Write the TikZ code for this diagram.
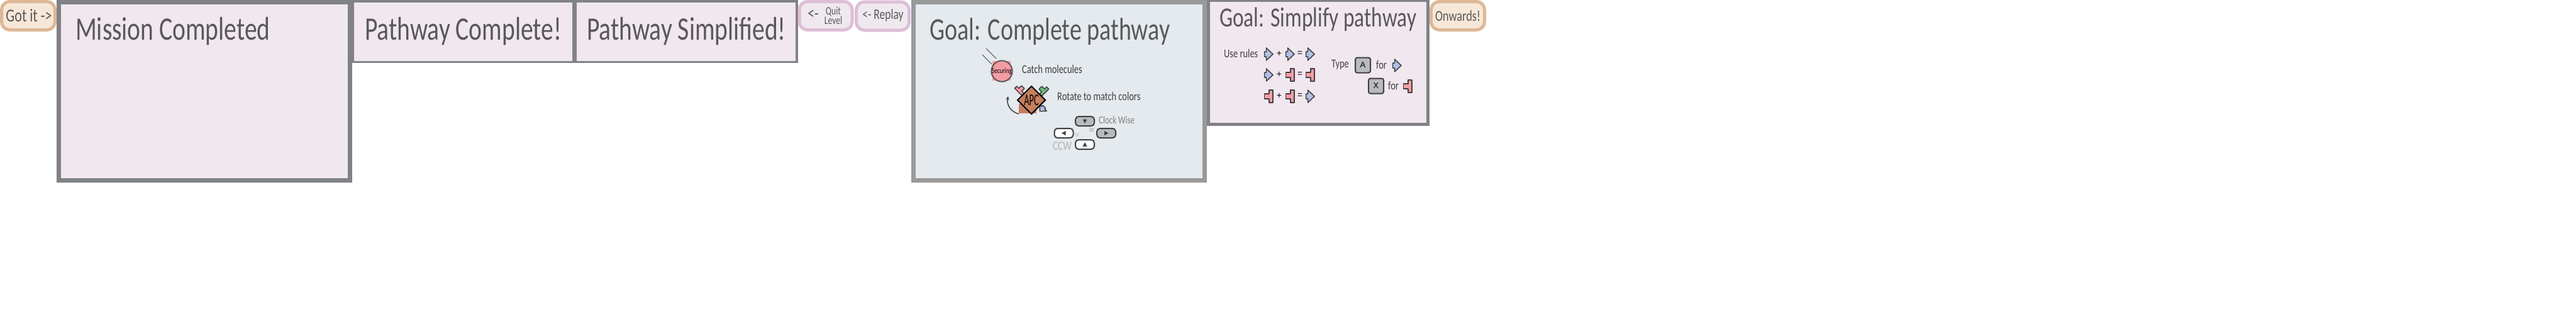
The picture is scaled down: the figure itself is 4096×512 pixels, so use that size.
\documentclass[tikz,border=0pt]{standalone}
\usepackage{fontspec}
\usetikzlibrary{shapes.geometric}
\newfontfamily\manofont[FakeStretch=0.76]{Carlito}
\newfontfamily\manostretta[FakeStretch=0.55]{Carlito}
\newfontfamily\tastofont{Liberation Sans}
\newcommand{\mano}[1]{\manofont\fontsize{#1}{#1}\selectfont}
\newcommand{\manoS}[1]{\manostretta\fontsize{#1}{#1}\selectfont}
\newcommand{\tasto}[1]{\tastofont\fontsize{#1}{#1}\selectfont}

\definecolor{bordoviola}{HTML}{818286}
\definecolor{bordogrigio}{HTML}{999999}
\definecolor{fondoviola}{HTML}{F1E7EF}
\definecolor{fondoblu}{HTML}{E5EAEE}
\definecolor{bordocaldo}{HTML}{DDB897}
\definecolor{fondocaldo}{HTML}{F7E7D7}
\definecolor{bordorosa}{HTML}{DDBFD7}
\definecolor{fondorosa}{HTML}{EFE9EF}
\definecolor{inchiostro}{HTML}{58585A}
\definecolor{scuro}{HTML}{3F3F41}
\definecolor{pezzoblu}{HTML}{AFC0E4}
\definecolor{pezzorosa}{HTML}{F59CA3}
\definecolor{pezzoverde}{HTML}{6FC17F}
\definecolor{rame}{HTML}{C57F5E}
\definecolor{tastogrigio}{HTML}{B9BABC}

\tikzset{
  pannello/.style={draw=bordoviola, fill=fondoviola, inner sep=0pt},
  bottone/.style={rounded corners=13pt, line width=5pt, minimum width=85pt, minimum height=45pt, inner sep=0pt},
  caldo/.style={bottone, draw=bordocaldo, fill=fondocaldo},
  rosa/.style={bottone, draw=bordorosa, fill=fondorosa},
  scritta/.style={text=inchiostro, inner sep=0pt},
  titolo/.style={scritta, anchor=base west, font=\mano{52}},
  regola/.style={text=scuro, inner sep=0pt, font=\mano{19}},
  segno/.style={text=black, inner sep=0pt, font=\tasto{14}},
  freccia/.style={draw=scuro, line width=2pt, fill=#1, rounded corners=5pt, minimum width=30pt, minimum height=15pt, inner sep=0pt},
  lettera/.style={draw=scuro, line width=2pt, fill=tastogrigio, rounded corners=3pt, minimum size=24pt, inner sep=0pt, font=\tasto{13}},
  pezzob/.pic={
    \draw[draw=scuro, fill=pezzoblu, line width=1.5pt, line join=round]
      (-3.5,-10) -- (-3.5,-4) -- (-6.5,-4) -- (-6.5,4) -- (-3.5,4) -- (-3.5,10) -- (7,0) -- cycle;
  },
  pezzot/.pic={
    \draw[draw=scuro, fill=pezzorosa, line width=1.5pt, line join=round]
      (1,-10) -- (7,-10) -- (7,10) -- (1,10) -- (1,4) -- (-6.5,4) -- (-6.5,-4) -- (1,-4) -- cycle;
  },
  pezzov/.pic={
    \draw[draw=scuro, fill=pezzoverde, line width=1.5pt, line join=round]
      (1,-10) -- (7,-10) -- (7,10) -- (1,10) -- (1,4) -- (-6.5,4) -- (-6.5,-4) -- (1,-4) -- cycle;
  },
  punta/.pic={
    \fill[scuro] (3.5,0) -- (-3,-3.5) -- (-3,3.5) -- cycle;
  }
}

\begin{document}
\begin{tikzpicture}[>=stealth, x=1pt, y=-1pt]
    \useasboundingbox (0,0) rectangle (4096,512);

    % --- Pannelli di fine livello ---
    \node[pannello, line width=3.5pt, minimum width=350.5pt, minimum height=96.5pt] (completa) at (736.5,50) {};
    \node[pannello, line width=3.5pt, minimum width=351.5pt, minimum height=96.5pt] (semplifica) at (1091,50) {};
    \node[pannello, line width=7pt, minimum width=463pt, minimum height=283pt] (missione) at (325,145) {};
    \node[titolo] (titmissione) at (120,63) {Mission Completed};
    \node[titolo] (titcompleta) at (580,63) {Pathway Complete!};
    \node[titolo] (titsemplifica) at (933,63) {Pathway Simplified!};

    % --- Bottoni ---
    \node[caldo] (gotit) at (45,25) {};
    \node[scritta, font=\mano{29}] (tgotit) at (46,25) {Got it ->};
    \node[rosa, minimum width=84pt] (quit) at (1313,25) {};
    \node[scritta, font=\mano{28}] (tquit) at (1293,23) {<-};
    \node[scritta, font=\mano{18}, align=center] (tlevel) at (1325,25) {Quit\\[-3pt]Level};
    \node[rosa, minimum width=84pt] (replay) at (1403.5,25.5) {};
    \node[scritta, font=\mano{23}] (treplay) at (1404,24) {<- Replay};
    \node[caldo] (onwards) at (2318,25) {};
    \node[scritta, font=\mano{24}] (tonwards) at (onwards) {Onwards!};

    % --- Obiettivo: completare ---
    \node[pannello, draw=bordogrigio, fill=fondoblu, line width=7pt, minimum width=463pt, minimum height=283pt] (obcompleta) at (1684,145) {};
    \node[titolo, font=\mano{50}] (titobcompleta) at (1478,63) {Goal: Complete pathway};

    % Molecola che cade
    \coordinate (scia1a) at (1568,77);
    \coordinate (scia1b) at (1584,93);
    \coordinate (scia2a) at (1562,87);
    \coordinate (scia2b) at (1577,102);
    \draw[scuro, line width=1pt] (scia1a) -- (scia1b);
    \draw[scuro, line width=1pt] (scia2a) -- (scia2b);
    \fill[pezzorosa] (1578,97) rectangle (1607,128);
    \node[circle, draw=inchiostro, fill=pezzorosa, line width=2pt, minimum size=28pt, inner sep=0pt, font=\mano{12}, text=black] (securing) at (1593,113) {Securing};
    \node[regola, anchor=west] (catch) at (1625,110) {Catch molecules};

    % Enzima con i suoi pezzi
    \fill[rame] (1620,165) rectangle (1648,180);
    \pic[rotate=225, scale=.8] at (1623,142) {pezzot};
    \pic[rotate=-45, scale=.8] at (1658,143) {pezzov};
    \pic[rotate=225, scale=.75] at (1657,173) {pezzob};
    \node[diamond, aspect=1, draw=black, fill=rame, line width=2pt, minimum size=45pt, inner sep=0pt, font=\manoS{26}, text=black] (apc) at (1640,159) {APC};
    \coordinate (codagiro) at (1620,181);
    \coordinate (puntagiro) at (1603,153);
    \draw[->, scuro, line width=1.5pt] (codagiro) .. controls (1608,178) and (1600,167) .. (puntagiro);
    \node[regola, anchor=west] (rotate) at (1681,153) {Rotate to match colors};

    % Tasti freccia
    \node[freccia=tastogrigio] (su) at (1725,192.5) {};
    \node[freccia=tastogrigio] (destra) at (1759,211.5) {};
    \node[freccia=white] (sinistra) at (1691.5,211.5) {};
    \node[freccia=white] (giu) at (1725,229.5) {};
    \pic[rotate=-90] at (su) {punta};
    \pic at (destra) {punta};
    \pic[rotate=180] at (sinistra) {punta};
    \pic[rotate=90] at (giu) {punta};
    \node[scritta, anchor=west, text=gray, font=\mano{17}] (clock) at (1747,191) {Clock Wise};
    \node[scritta, text=gray!80, font=\mano{12}] (or1) at (1736,207) {or};
    \node[scritta, text=gray!50, font=\mano{12}] (or2) at (1713,215) {or};
    \node[scritta, anchor=east, text=gray!60, font=\mano{20}] (ccw) at (1704,232) {CCW};

    % --- Obiettivo: semplificare ---
    \node[pannello, line width=5pt, minimum width=349pt, minimum height=197pt] (obsemplifica) at (2096,98.5) {};
    \node[titolo, font=\mano{44}] (titobsemplifica) at (1939,42) {Goal: Simplify pathway};

    % Regole
    \node[regola, anchor=west] (userules) at (1946,85) {Use rules};
    \pic at (2017,86) {pezzob};
    \pic at (2051,86) {pezzob};
    \pic at (2083,86) {pezzob};
    \pic at (2017,119) {pezzob};
    \pic at (2051,119) {pezzot};
    \pic at (2083,119) {pezzot};
    \pic at (2017,153) {pezzot};
    \pic at (2051,153) {pezzot};
    \pic at (2083,153) {pezzob};
    \foreach \riga/\y in {a/85, b/118, c/152} {
        \node[segno] (piu\riga) at (2034,\y) {+};
        \node[segno] (uguale\riga) at (2067,\y) {=};
    }

    % Tasti A e X
    \node[regola, anchor=west] (type) at (2117,103) {Type};
    \node[lettera] (tastoa) at (2167,103.5) {A};
    \node[regola, anchor=west] (for1) at (2188,103) {for};
    \pic at (2221,104) {pezzob};
    \node[lettera] (tastox) at (2188,136.5) {X};
    \node[regola, anchor=west] (for2) at (2207,136) {for};
    \pic at (2238,137) {pezzot};
\end{tikzpicture}
\end{document}
